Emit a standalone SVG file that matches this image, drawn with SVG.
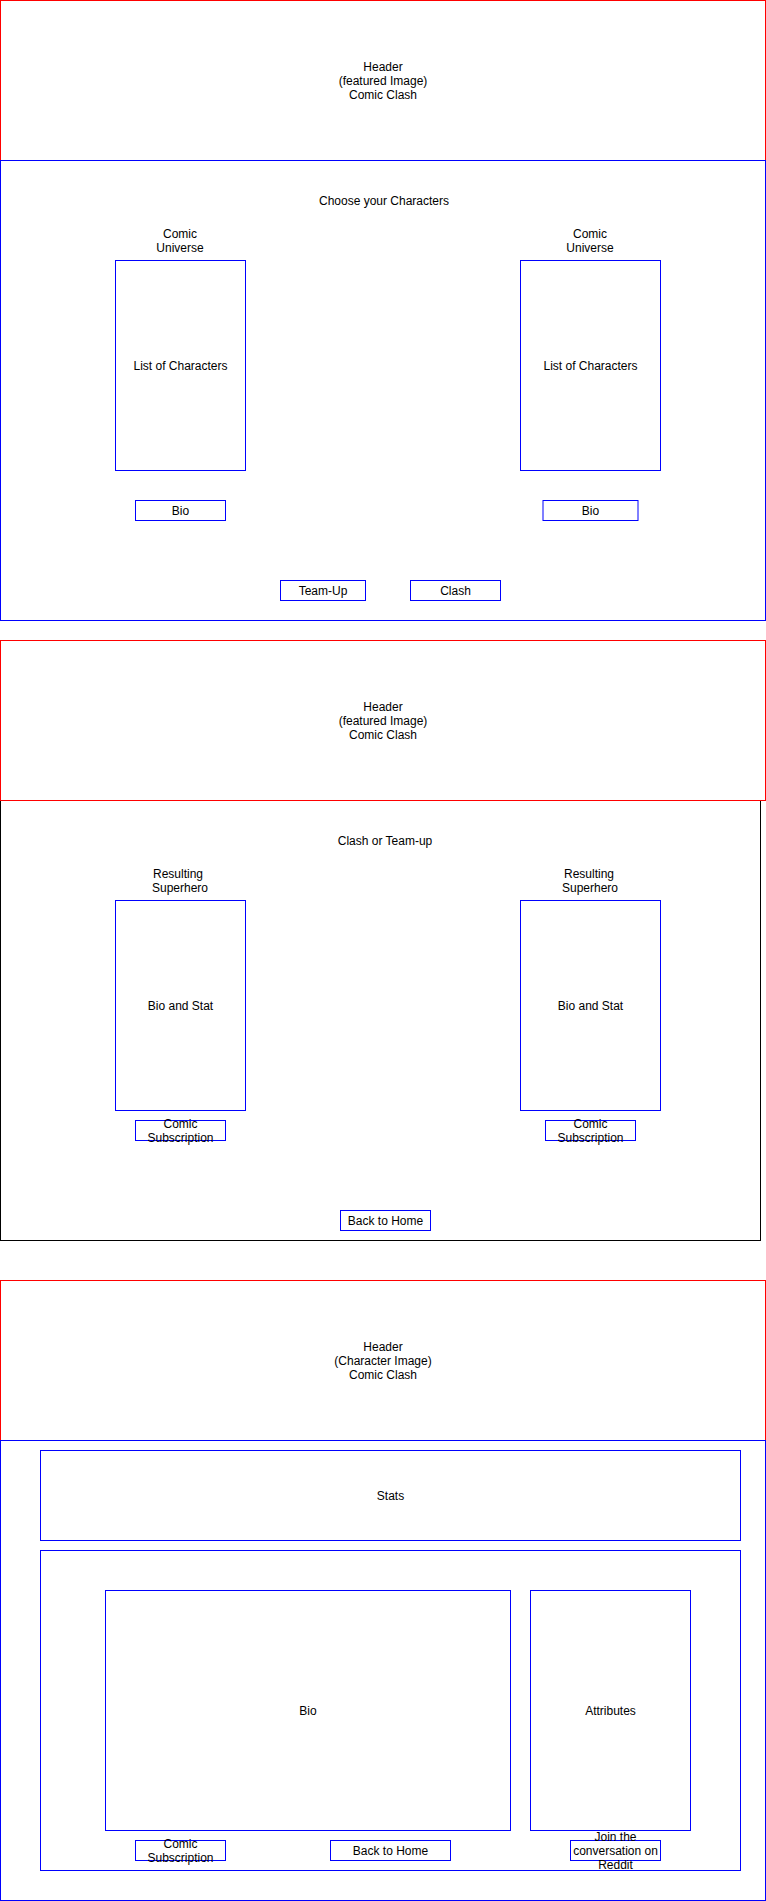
<svg xmlns="http://www.w3.org/2000/svg" width="766" height="1901" viewBox="0 0 766 1901">
<style>
  rect { fill: #FFFFFF; stroke-width: 1; }
  .red { stroke: #FF0000; }
  .blue { stroke: #0000FF; }
  .black { stroke: #000000; }
  text { font-family: "Liberation Sans", Arial, Helvetica, sans-serif; font-size: 12px; fill: #000000; text-anchor: middle; }
</style>
<rect x="0" y="0" width="766" height="1901" style="stroke:none;fill:#FFFFFF"/>

<!-- Page 1 -->
<g id="p1-header"><rect class="red" x="0.5" y="0.5" width="765" height="160"/>
  <text x="383" y="71">Header</text><text x="383" y="85">(featured Image)</text><text x="383" y="99">Comic Clash</text></g>
<g id="p1-body"><rect class="blue" x="0.5" y="160.5" width="765" height="460"/>
  <text x="384" y="205">Choose your Characters</text></g>
<g id="p1-universe-left"><text x="180" y="238">Comic</text><text x="180" y="252">Universe</text></g>
<g id="p1-universe-right"><text x="590" y="238">Comic</text><text x="590" y="252">Universe</text></g>
<g id="p1-list-left"><rect class="blue" x="115.5" y="260.5" width="130" height="210"/><text x="180.5" y="370">List of Characters</text></g>
<g id="p1-list-right"><rect class="blue" x="520.5" y="260.5" width="140" height="210"/><text x="590.5" y="370">List of Characters</text></g>
<g id="p1-bio-left"><rect class="blue" x="135.5" y="500.5" width="90" height="20"/><text x="180.5" y="514.5">Bio</text></g>
<g id="p1-bio-right"><rect class="blue" x="543" y="500.5" width="95" height="20"/><text x="590.5" y="514.5">Bio</text></g>
<g id="p1-teamup"><rect class="blue" x="280.5" y="580.5" width="85" height="20"/><text x="323" y="594.5">Team-Up</text></g>
<g id="p1-clash"><rect class="blue" x="410.5" y="580.5" width="90" height="20"/><text x="455.5" y="594.5">Clash</text></g>

<!-- Page 2 -->
<g id="p2-body"><rect class="black" x="0.5" y="800.5" width="760" height="440"/>
  <text x="385" y="845">Clash or Team-up</text></g>
<g id="p2-header"><rect class="red" x="0.5" y="640.5" width="765" height="160"/>
  <text x="383" y="711">Header</text><text x="383" y="725">(featured Image)</text><text x="383" y="739">Comic Clash</text></g>
<g id="p2-result-left"><text x="178" y="878">Resulting</text><text x="180" y="892">Superhero</text></g>
<g id="p2-result-right"><text x="589" y="878">Resulting</text><text x="590" y="892">Superhero</text></g>
<g id="p2-biostat-left"><rect class="blue" x="115.5" y="900.5" width="130" height="210"/><text x="180.5" y="1010">Bio and Stat</text></g>
<g id="p2-biostat-right"><rect class="blue" x="520.5" y="900.5" width="140" height="210"/><text x="590.5" y="1010">Bio and Stat</text></g>
<g id="p2-sub-left"><rect class="blue" x="135.5" y="1120.5" width="90" height="20"/><text x="180.5" y="1127.5">Comic</text><text x="180.5" y="1141.5">Subscription</text></g>
<g id="p2-sub-right"><rect class="blue" x="545.5" y="1120.5" width="90" height="20"/><text x="590.5" y="1127.5">Comic</text><text x="590.5" y="1141.5">Subscription</text></g>
<g id="p2-home"><rect class="blue" x="340.5" y="1210.5" width="90" height="20"/><text x="385.5" y="1224.5">Back to Home</text></g>

<!-- Page 3 -->
<g id="p3-header"><rect class="red" x="0.5" y="1280.5" width="765" height="160"/>
  <text x="383" y="1351">Header</text><text x="383" y="1365">(Character Image)</text><text x="383" y="1379">Comic Clash</text></g>
<g id="p3-body"><rect class="blue" x="0.5" y="1440.5" width="765" height="460"/></g>
<g id="p3-stats"><rect class="blue" x="40.5" y="1450.5" width="700" height="90"/><text x="390.5" y="1500">Stats</text></g>
<g id="p3-content"><rect class="blue" x="40.5" y="1550.5" width="700" height="320"/></g>
<g id="p3-bio"><rect class="blue" x="105.5" y="1590.5" width="405" height="240"/><text x="308" y="1714.5">Bio</text></g>
<g id="p3-attributes"><rect class="blue" x="530.5" y="1590.5" width="160" height="240"/><text x="610.5" y="1714.5">Attributes</text></g>
<g id="p3-sub"><rect class="blue" x="135.5" y="1840.5" width="90" height="20"/><text x="180.5" y="1847.5">Comic</text><text x="180.5" y="1861.5">Subscription</text></g>
<g id="p3-home"><rect class="blue" x="330.5" y="1840.5" width="120" height="20"/><text x="390.5" y="1854.5">Back to Home</text></g>
<g id="p3-reddit"><rect class="blue" x="570.5" y="1840.5" width="90" height="20"/><text x="615.5" y="1840.5">Join the</text><text x="615.5" y="1854.5">conversation on</text><text x="615.5" y="1868.5">Reddit</text></g>

<g id="connectors"></g>
</svg>
